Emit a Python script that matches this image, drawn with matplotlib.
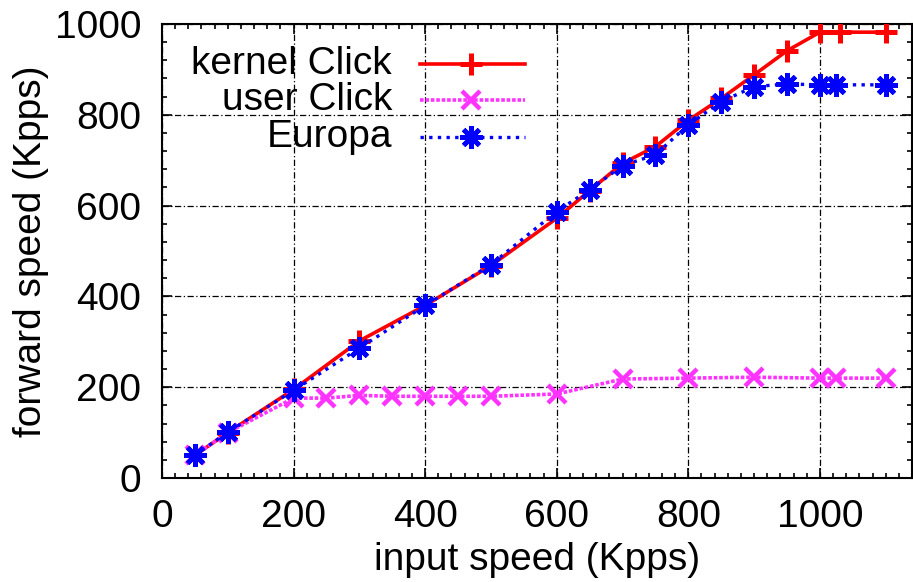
import matplotlib
matplotlib.use("Agg")
import matplotlib.pyplot as plt
from matplotlib.ticker import MultipleLocator

plt.rcParams['font.family'] = ['Liberation Sans', 'DejaVu Sans']

# Input rate (Kpps) and measured forwarding rate (Kpps) per router
kernel_x = [50, 100, 200, 300, 400, 500, 600, 650, 700, 750, 800, 850, 900, 950, 1000, 1030, 1100]
kernel_y = [50, 100, 195, 302, 380, 468, 572, 633, 693, 730, 788, 836, 888, 941, 982, 982, 982]

user_x = [50, 100, 200, 250, 300, 350, 400, 450, 500, 600, 700, 800, 900, 1000, 1025, 1100]
user_y = [50, 100, 176, 176, 182, 180, 180, 180, 180, 185, 218, 220, 222, 220, 220, 220]

europa_x = [50, 100, 200, 300, 400, 500, 600, 650, 700, 750, 800, 850, 900, 950, 1000, 1025, 1100]
europa_y = [50, 101, 193, 286, 380, 470, 587, 635, 688, 712, 778, 829, 862, 868, 866, 866, 866]

series_names = ["kernel Click", "user Click", "Europa"]

W, H = 913, 582
fig = plt.figure(figsize=(W / 100, H / 100), dpi=100)
L, R, T, B = 162, 912, 24, 478
ax = fig.add_axes([L / W, 1 - B / H, (R - L) / W, (B - T) / H])

asterisk = (8, 2, 0)

styles = [
    dict(color='#ff0000', lw=2.6, ls='-', marker='+', ms=16, mew=3.6),
    dict(color='#ff33ff', lw=2.6, ls=(0, (1, 0.5)), marker='x', ms=13.5, mew=3.2),
    dict(color='#0000ff', lw=2.4, ls=(0, (1, 1.6)), marker=asterisk, ms=16, mew=3.4),
]

for xs, ys, st in zip([kernel_x, user_x, europa_x], [kernel_y, user_y, europa_y], styles):
    ax.plot(xs, ys, color=st['color'], lw=st['lw'], ls=st['ls'],
            marker=st['marker'], ms=st['ms'], mew=st['mew'], zorder=3)

ax.set_xlim(0, 1140)
ax.set_ylim(0, 1000)
ax.xaxis.set_major_locator(MultipleLocator(200))
ax.xaxis.set_minor_locator(MultipleLocator(20))
ax.yaxis.set_major_locator(MultipleLocator(200))
ax.yaxis.set_minor_locator(MultipleLocator(40))

ax.tick_params(which='both', direction='in', top=True, right=True, labelsize=28, width=1.2)
ax.tick_params(which='major', length=7.5, pad=15)
ax.tick_params(which='minor', length=3.8)
for sp in ax.spines.values():
    sp.set_linewidth(1.5)

ax.grid(True, which='major', color='black', lw=0.9, ls=(0, (5, 2, 1, 2)), zorder=1)

ax.set_xlabel("input speed (Kpps)", fontsize=28, labelpad=5)
ax.set_ylabel("forward speed (Kpps)", fontsize=28, labelpad=4)

# Key: labels right-aligned, sample line with marker to their right
def fx(px):
    return (px - L) / (R - L)

def fy(py):
    return (B - py) / (B - T)

for name, st, py in zip(series_names, styles, [64, 100, 137]):
    ax.text(fx(392), fy(py), name, transform=ax.transAxes, ha='right', va='center',
            fontsize=28, zorder=5)
    ax.plot([fx(420), fx(525)], [fy(py), fy(py)], transform=ax.transAxes,
            color=st['color'], lw=st['lw'], ls=st['ls'], clip_on=False, zorder=5)
    ax.plot([fx(471)], [fy(py)], transform=ax.transAxes, color=st['color'],
            marker=st['marker'], ms=st['ms'], mew=st['mew'], ls='none',
            clip_on=False, zorder=5)

fig.savefig("out.png", dpi=100)
